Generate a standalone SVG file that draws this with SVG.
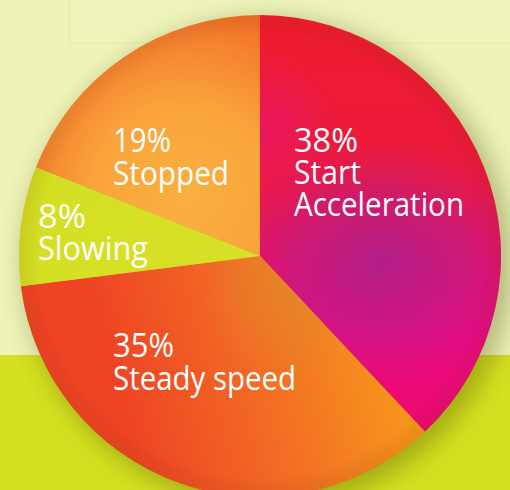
<svg xmlns="http://www.w3.org/2000/svg" width="510" height="490" viewBox="0 0 510 490">
<defs>
<style>
.lbl{font-family:"Open Sans","Noto Sans","DejaVu Sans",sans-serif;font-size:32px;fill:#ffffff;}
</style>
<filter id="shadow" x="-20%" y="-20%" width="140%" height="140%">
<feGaussianBlur stdDeviation="13"/>
</filter>
<linearGradient id="gStart" x1="0" y1="15" x2="0" y2="430" gradientUnits="userSpaceOnUse">
<stop offset="0" stop-color="#ee1c2e"/>
<stop offset="0.4" stop-color="#ec1a3c"/>
<stop offset="0.75" stop-color="#ea0a80"/>
<stop offset="1" stop-color="#ec0a70"/>
</linearGradient>
<radialGradient id="gStartPurple" cx="380" cy="262" r="165" gradientUnits="userSpaceOnUse" gradientTransform="translate(380 262) scale(1 0.75) translate(-380 -262)">
<stop offset="0" stop-color="#a22290" stop-opacity="0.8"/>
<stop offset="0.55" stop-color="#b41e8c" stop-opacity="0.5"/>
<stop offset="1" stop-color="#c81888" stop-opacity="0"/>
</radialGradient>
<radialGradient id="gStartPink" cx="262" cy="130" r="80" gradientUnits="userSpaceOnUse">
<stop offset="0" stop-color="#ea1568" stop-opacity="0.8"/>
<stop offset="1" stop-color="#ea1568" stop-opacity="0"/>
</radialGradient>
<linearGradient id="gSteady" x1="120" y1="400" x2="380" y2="330" gradientUnits="userSpaceOnUse">
<stop offset="0" stop-color="#ee4424"/>
<stop offset="0.5" stop-color="#f26a24"/>
<stop offset="1" stop-color="#f7941d"/>
</linearGradient>
<radialGradient id="gSteadyTop" cx="290" cy="290" r="90" gradientUnits="userSpaceOnUse">
<stop offset="0" stop-color="#d98a2c" stop-opacity="0.6"/>
<stop offset="1" stop-color="#d98a2c" stop-opacity="0"/>
</radialGradient>
<radialGradient id="gStopped" cx="185" cy="195" r="200" gradientUnits="userSpaceOnUse">
<stop offset="0" stop-color="#fbb040"/>
<stop offset="0.45" stop-color="#f9a43b"/>
<stop offset="1" stop-color="#f26a26"/>
</radialGradient>
<linearGradient id="gSlow" x1="20" y1="200" x2="260" y2="260" gradientUnits="userSpaceOnUse">
<stop offset="0" stop-color="#d4df22"/>
<stop offset="1" stop-color="#d8e028"/>
</linearGradient>
<radialGradient id="gRim" cx="260" cy="256" r="241" gradientUnits="userSpaceOnUse">
<stop offset="0.92" stop-color="#000" stop-opacity="0"/>
<stop offset="1" stop-color="#803000" stop-opacity="0.1"/>
</radialGradient>
</defs>
<g id="background">
<rect x="0" y="0" width="510" height="355" fill="#eef3b8"/>
<rect x="0" y="355" width="510" height="135" fill="#d5e020"/>
<rect x="69.5" y="-1" width="442" height="44" fill="#eff4bb" stroke="#e4eaa6" stroke-width="1"/>
<circle cx="268" cy="263" r="244" fill="#3a4000" opacity="0.33" filter="url(#shadow)"/>
</g>
<g id="connectors"></g>
<g id="slice-start">
<path d="M260,256 L260,15 A241,241 0 0 1 424.98,431.68 Z" fill="url(#gStart)"/>
<path d="M260,256 L260,15 A241,241 0 0 1 424.98,431.68 Z" fill="url(#gStartPurple)"/>
<path d="M260,256 L260,15 A241,241 0 0 1 424.98,431.68 Z" fill="url(#gStartPink)"/>
<text class="lbl" x="294" y="152" textLength="64" lengthAdjust="spacingAndGlyphs">38%</text>
<text class="lbl" x="294" y="184" textLength="67" lengthAdjust="spacingAndGlyphs">Start</text>
<text class="lbl" x="294" y="216" textLength="170" lengthAdjust="spacingAndGlyphs">Acceleration</text>
</g>
<g id="slice-steady">
<path d="M260,256 L424.98,431.68 A241,241 0 0 1 20.9,286.2 Z" fill="url(#gSteady)"/>
<path d="M260,256 L424.98,431.68 A241,241 0 0 1 20.9,286.2 Z" fill="url(#gSteadyTop)"/>
<text class="lbl" x="113" y="357" textLength="61" lengthAdjust="spacingAndGlyphs">35%</text>
<text class="lbl" x="113" y="390" textLength="183" lengthAdjust="spacingAndGlyphs">Steady speed</text>
</g>
<g id="slice-slowing">
<path d="M260,256 L20.9,286.2 A241,241 0 0 1 35.9,167.3 Z" fill="url(#gSlow)"/>
<text class="lbl" x="38" y="228" textLength="48" lengthAdjust="spacingAndGlyphs">8%</text>
<text class="lbl" x="38" y="260" textLength="110" lengthAdjust="spacingAndGlyphs">Slowing</text>
</g>
<g id="slice-stopped">
<path d="M260,256 L35.9,167.3 A241,241 0 0 1 260,15 Z" fill="url(#gStopped)"/>
<text class="lbl" x="113" y="152" textLength="58" lengthAdjust="spacingAndGlyphs">19%</text>
<text class="lbl" x="113" y="185" textLength="116" lengthAdjust="spacingAndGlyphs">Stopped</text>
</g>
<circle cx="260" cy="256" r="241" fill="url(#gRim)"/>
</svg>
